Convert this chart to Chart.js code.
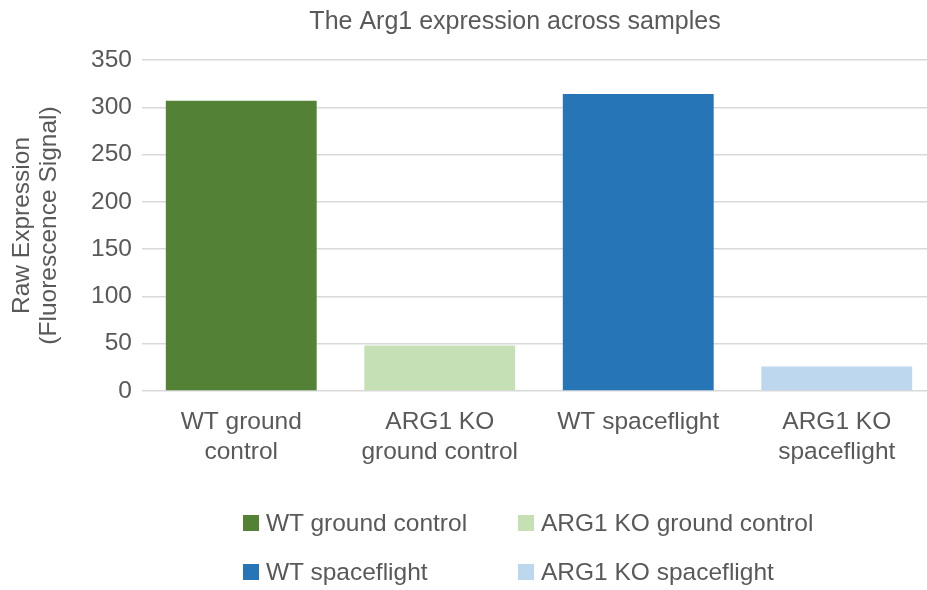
<!DOCTYPE html>
<html>
<head>
<meta charset="utf-8">
<title>Arg1 expression</title>
<script src="https://cdn.jsdelivr.net/npm/chart.js@4.4.1/dist/chart.umd.min.js"></script>
<style>
    body { margin: 0; background: #fff; }
    #wrap { position: relative; width: 927px; height: 590px; }
    #legenda {
        position: absolute; left: 243px; top: 509px;
        display: grid; grid-template-columns: 275px 320px; row-gap: 21px;
        font: 24.5px "Liberation Sans", Arial, sans-serif; color: #595959;
    }
    .item { display: flex; align-items: center; height: 28px; line-height: 28px; white-space: nowrap; }
    .caixa { flex: 0 0 16px; width: 16px; height: 16px; margin-right: 7px; }
</style>
</head>
<body>
<div id="wrap">
    <canvas id="grafico"></canvas>
    <div id="legenda"></div>
</div>
<script>
// Dados do gráfico
const categorias = [['WT ground', 'control'], ['ARG1 KO', 'ground control'], ['WT spaceflight'], ['ARG1 KO', 'spaceflight']];
const valores = [307, 48, 314, 26];
const cores = ['#538135', '#c5e0b4', '#2675b7', '#bdd7ee'];
const ticksY = [0, 50, 100, 150, 200, 250, 300, 350];
const titulo = 'The Arg1 expression across samples';
const tituloY = ['Raw Expression', '(Fluorescence Signal)'];

const fonte = '"Liberation Sans", Arial, sans-serif';
const cinza = '#595959';

// Legenda em HTML (duas colunas)
const legenda = document.getElementById('legenda');
categorias.forEach((cat, i) => {
    const item = document.createElement('div');
    item.className = 'item';
    const caixa = document.createElement('span');
    caixa.className = 'caixa';
    caixa.style.background = cores[i];
    item.appendChild(caixa);
    item.appendChild(document.createTextNode(cat.join(' ')));
    legenda.appendChild(item);
});

// No original a área do gráfico passa um pouco da borda direita,
// e o título fica centrado mais à direita
const ajusteLayout = {
    id: 'ajusteLayout',
    afterLayout(chart) {
        const direita = 936;
        chart.chartArea.right = direita;
        chart.chartArea.width = direita - chart.chartArea.left;
        const x = chart.scales.x;
        x.right = direita;
        x.width = direita - x.left;
        x.configure();
        if (chart.titleBlock) {
            chart.titleBlock.left = 103;
            chart.titleBlock.right = 927;
        }
    }
};

const ctx = document.getElementById('grafico').getContext('2d');
new Chart(ctx, {
    type: 'bar',
    data: {
        labels: categorias,
        datasets: [{
            label: 'Raw Expression',
            data: valores,
            backgroundColor: cores,
            borderWidth: 0,
            categoryPercentage: 0.76,
            barPercentage: 1
        }]
    },
    options: {
        responsive: true,
        maintainAspectRatio: false,
        animation: false,
        layout: {
            padding: { top: 0, left: 0, right: 0, bottom: 99 }
        },
        plugins: {
            legend: { display: false },
            tooltip: { enabled: false },
            title: {
                display: true,
                text: titulo,
                color: cinza,
                font: { family: fonte, size: 25, weight: 'normal', lineHeight: 1.2 },
                padding: { top: 7, bottom: 23 }
            }
        },
        scales: {
            x: {
                grid: { display: false },
                border: { display: false },
                ticks: {
                    color: cinza,
                    font: { family: fonte, size: 24.5, lineHeight: 1.22 },
                    padding: 8,
                    maxRotation: 0,
                    autoSkip: false
                },
                afterFit: (scale) => { scale.height = 100; }
            },
            y: {
                min: 0,
                max: 350,
                afterBuildTicks: (scale) => { scale.ticks = ticksY.map(v => ({ value: v })); },
                grid: { color: '#d9d9d9', lineWidth: 1.5, drawTicks: false },
                border: { display: false },
                ticks: {
                    color: cinza,
                    font: { family: fonte, size: 24.5 },
                    padding: 10
                },
                title: {
                    display: true,
                    text: tituloY,
                    color: cinza,
                    font: { family: fonte, size: 24.5, lineHeight: 1.1 },
                    padding: { top: 9, bottom: 0 }
                },
                afterFit: (scale) => { scale.width = 142; }
            }
        }
    },
    plugins: [ajusteLayout]
});
</script>
</body>
</html>
